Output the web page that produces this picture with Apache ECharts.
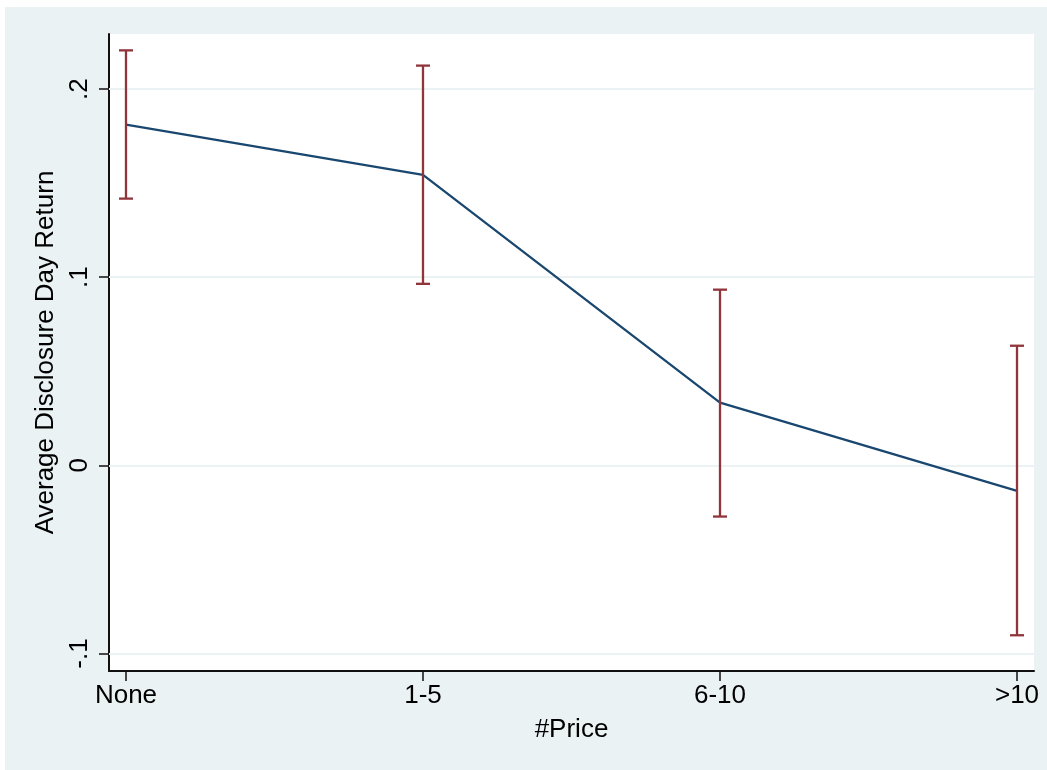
<!DOCTYPE html>
<html>
<head>
<meta charset="utf-8">
<script src="https://cdn.jsdelivr.net/npm/echarts@6/dist/echarts.min.js"></script>
<style>
  html, body { margin: 0; padding: 0; background: #ffffff; }
  #chart { position: absolute; left: 5px; top: 7px; width: 1042px; height: 763px; }
</style>
</head>
<body>
<div id="chart"></div>
<script>
// ---- data ----
const categories = ['None', '1-5', '6-10', '>10'];
const meanValues = [0.1811, 0.1544, 0.0334, -0.0136];
const upperCI = [0.2206, 0.2125, 0.0934, 0.0636];
const lowerCI = [0.1418, 0.0965, -0.0272, -0.0903];
const yTickValues = [-0.1, 0, 0.1, 0.2];
const yTickLabels = ['-.1', '0', '.1', '.2'];

const FONT = "'Liberation Sans', Arial, Helvetica, sans-serif";
const lineColor = '#1a476f';
const barColor = '#90353b';

const xIdx = categories.map((c, i) => i);
const lineData = meanValues.map((v, i) => [i, v]);
const ciData = categories.map((c, i) => [i, lowerCI[i], upperCI[i]]);

function yLabel(v) {
  let best = 0, bd = Infinity;
  yTickValues.forEach((t, i) => { const d = Math.abs(t - v); if (d < bd) { bd = d; best = i; } });
  return yTickLabels[best];
}

const chart = echarts.init(document.getElementById('chart'), null, { renderer: 'canvas' });
chart.setOption({
  backgroundColor: '#eaf2f3',
  animation: false,
  grid: { left: 104, right: 13, top: 27, bottom: 99, show: true, backgroundColor: '#ffffff', borderWidth: 0 },
  xAxis: {
    type: 'value',
    min: -0.0572, max: 3.0572,
    name: '#Price', nameLocation: 'middle', nameGap: 46,
    nameTextStyle: { fontFamily: FONT, fontSize: 26, color: '#000' },
    axisLine: { show: true, onZero: false, lineStyle: { color: '#111', width: 2 } },
    axisTick: { show: true, length: 10, customValues: xIdx, lineStyle: { color: '#111', width: 1.5 } },
    axisLabel: { customValues: xIdx, margin: 12, fontFamily: FONT, fontSize: 26, color: '#000',
      formatter: v => categories[Math.round(v)] },
    splitLine: { show: false }
  },
  yAxis: {
    type: 'value',
    min: -0.1093, max: 0.2293,
    name: 'Average Disclosure Day Return', nameLocation: 'middle', nameGap: 44,
    nameTextStyle: { fontFamily: FONT, fontSize: 26, color: '#000' },
    axisLine: { show: true, onZero: false, lineStyle: { color: '#111', width: 2 } },
    axisTick: { show: true, length: 10, customValues: yTickValues, lineStyle: { color: '#111', width: 1.5 } },
    axisLabel: { customValues: yTickValues, rotate: 90, margin: 16, fontFamily: FONT, fontSize: 26, color: '#000',
      formatter: v => yLabel(v) },
    splitLine: { show: false }
  },
  series: [
    {
      type: 'line', data: [], z: 1, silent: true,
      markLine: {
        z: 1, silent: true, symbol: 'none', label: { show: false },
        lineStyle: { color: '#eaf2f3', width: 2, type: 'solid' },
        data: yTickValues.map(v => ({ yAxis: v }))
      }
    },
    {
      type: 'line', data: lineData, z: 3,
      showSymbol: false, symbol: 'none',
      lineStyle: { color: lineColor, width: 2.3 },
      itemStyle: { color: lineColor }
    },
    {
      type: 'custom', data: ciData, z: 4,
      renderItem: function (params, api) {
        const x = api.value(0);
        const lo = api.coord([x, api.value(1)]);
        const hi = api.coord([x, api.value(2)]);
        const hw = 7;
        const style = { stroke: barColor, lineWidth: 2.3 };
        return {
          type: 'group',
          children: [
            { type: 'line', shape: { x1: lo[0], y1: lo[1], x2: hi[0], y2: hi[1] }, style },
            { type: 'line', shape: { x1: hi[0] - hw, y1: hi[1], x2: hi[0] + hw, y2: hi[1] }, style },
            { type: 'line', shape: { x1: lo[0] - hw, y1: lo[1], x2: lo[0] + hw, y2: lo[1] }, style }
          ]
        };
      }
    }
  ]
});
</script>
</body>
</html>
